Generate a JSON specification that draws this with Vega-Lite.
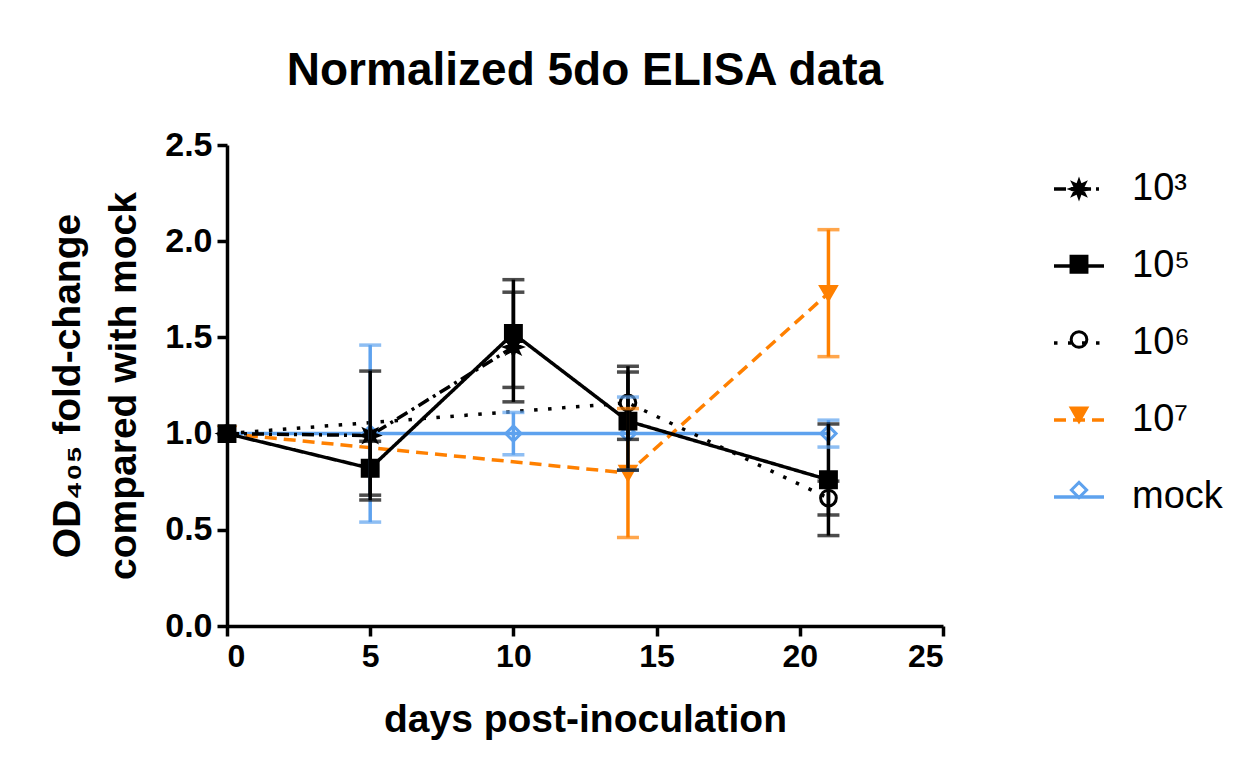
{
  "$schema": "https://vega.github.io/schema/vega-lite/v6.json",
  "width": 716,
  "height": 481,
  "autosize": {"type": "none"},
  "padding": {"left": 227, "top": 145, "right": 314, "bottom": 148},
  "background": "white",
  "title": {
    "text": "Normalized 5do ELISA data",
    "font": "Liberation Sans",
    "fontSize": 46,
    "fontWeight": "bold",
    "color": "black",
    "anchor": "middle",
    "frame": "group",
    "baseline": "alphabetic",
    "offset": -3
  },
  "config": {
    "view": {"stroke": null},
    "axis": {
      "grid": false,
      "domainColor": "black",
      "domainWidth": 3.5,
      "tickColor": "black",
      "tickWidth": 3.5,
      "tickSize": 10,
      "labelFont": "Liberation Sans",
      "labelFontWeight": "bold",
      "labelColor": "black",
      "titleFont": "Liberation Sans",
      "titleFontWeight": "bold",
      "titleFontSize": 39,
      "titleColor": "black"
    }
  },
  "data": {
    "values": [
      {"series": "mock", "day": 0, "mean": 1.0},
      {"series": "mock", "day": 5, "mean": 1.0, "lo": 0.54, "hi": 1.46},
      {"series": "mock", "day": 10, "mean": 1.0, "lo": 0.89, "hi": 1.11},
      {"series": "mock", "day": 14, "mean": 1.0, "lo": 0.81, "hi": 1.19},
      {"series": "mock", "day": 21, "mean": 1.0, "lo": 0.93, "hi": 1.07},
      {"series": "10⁷", "day": 0, "mean": 1.0},
      {"series": "10⁷", "day": 14, "mean": 0.795, "lo": 0.46, "hi": 1.13},
      {"series": "10⁷", "day": 21, "mean": 1.73, "lo": 1.4, "hi": 2.06},
      {"series": "10⁶", "day": 0, "mean": 1.0},
      {"series": "10⁶", "day": 14, "mean": 1.16, "lo": 0.97, "hi": 1.35},
      {"series": "10⁶", "day": 21, "mean": 0.665, "lo": 0.577, "hi": 0.753},
      {"series": "10³", "day": 0, "mean": 1.0},
      {"series": "10³", "day": 5, "mean": 0.99, "lo": 0.655, "hi": 1.325},
      {"series": "10³", "day": 10, "mean": 1.45, "lo": 1.165, "hi": 1.735},
      {"series": "10⁵", "day": 0, "mean": 1.0},
      {"series": "10⁵", "day": 5, "mean": 0.82, "lo": 0.68, "hi": 0.96},
      {"series": "10⁵", "day": 10, "mean": 1.52, "lo": 1.24, "hi": 1.8},
      {"series": "10⁵", "day": 14, "mean": 1.065, "lo": 0.81, "hi": 1.32},
      {"series": "10⁵", "day": 21, "mean": 0.76, "lo": 0.47, "hi": 1.05}
    ]
  },
  "encoding": {
    "x": {
      "field": "day",
      "type": "quantitative",
      "scale": {"domain": [0, 25], "nice": false, "zero": false},
      "axis": {"values": [0, 5, 10, 15, 20, 25], "title": "days post-inoculation", "labelFontSize": 32, "labelPadding": 5, "titlePadding": 28}
    },
    "y": {
      "field": "mean",
      "type": "quantitative",
      "scale": {"domain": [0, 2.5], "nice": false},
      "axis": {
        "values": [0, 0.5, 1, 1.5, 2, 2.5],
        "format": ".1f",
        "title": ["OD₄₀₅ fold-change", "compared with mock"],
        "titleLineHeight": 56,
        "labelFontSize": 34,
        "labelPadding": 5,
        "titlePadding": 21
      }
    }
  },
  "layer": [
    {
      "mark": {"type": "line", "strokeWidth": 3.5},
      "encoding": {
        "color": {
          "field": "series",
          "type": "nominal",
          "scale": {"domain": ["10³", "10⁵", "10⁶", "10⁷", "mock"], "range": ["black", "black", "black", "#FF8000", "#5EA2EE"]},
          "legend": {"orient": "none", "legendX": 825, "legendY": 17, "title": null, "padding": 0, "symbolType": "stroke", "symbolSize": 2500, "symbolStrokeWidth": 3.5, "labelFont": "Liberation Sans", "labelFontSize": 38, "labelColor": "black", "labelOffset": 26, "rowPadding": 31}
        },
        "strokeDash": {
          "field": "series",
          "type": "nominal",
          "scale": {"domain": ["10³", "10⁵", "10⁶", "10⁷", "mock"], "range": [[12, 5, 3, 5], [1, 0], [3.5, 10.5], [12, 7], [1, 0]]},
          "legend": {"orient": "none", "legendX": 825, "legendY": 17, "title": null, "padding": 0, "symbolType": "stroke", "symbolSize": 2500, "symbolStrokeWidth": 3.5, "labelFont": "Liberation Sans", "labelFontSize": 38, "labelColor": "black", "labelOffset": 26, "rowPadding": 31}
        }
      }
    },
    {
      "mark": {"type": "point", "strokeWidth": 3, "opacity": 1},
      "encoding": {
        "stroke": {
          "field": "series",
          "type": "nominal",
          "scale": {"domain": ["10³", "10⁵", "10⁶", "10⁷", "mock", " "], "range": ["black", "black", "black", "#FF8000", "#5EA2EE", "black"]},
          "legend": {"orient": "none", "legendX": 833, "legendY": 25, "title": null, "padding": 0, "values": ["10³", "10⁵", "10⁶", "10⁷", "mock"], "labelExpr": "''", "labelFont": "Liberation Sans", "labelFontSize": 38, "labelOffset": 26, "rowPadding": 37.25, "symbolStrokeWidth": 3}
        },
        "shape": {
          "field": "series",
          "type": "nominal",
          "scale": {"domain": ["10³", "10⁵", "10⁶", "10⁷", "mock", " "], "range": ["M1,0L0.462,0.191L0.707,0.707L0.191,0.462L0,1L-0.191,0.462L-0.707,0.707L-0.462,0.191L-1,0L-0.462,-0.191L-0.707,-0.707L-0.191,-0.462L0,-1L0.191,-0.462L0.707,-0.707L0.462,-0.191Z", "square", "circle", "triangle-down", "diamond", "circle"]},
          "legend": {"orient": "none", "legendX": 833, "legendY": 25, "title": null, "padding": 0, "values": ["10³", "10⁵", "10⁶", "10⁷", "mock"], "labelExpr": "''", "labelFont": "Liberation Sans", "labelFontSize": 38, "labelOffset": 26, "rowPadding": 37.25, "symbolStrokeWidth": 3}
        },
        "fill": {
          "field": "series",
          "type": "nominal",
          "scale": {"domain": ["10³", "10⁵", "10⁶", "10⁷", "mock", " "], "range": ["black", "black", "transparent", "#FF8000", "transparent", "black"]},
          "legend": {"orient": "none", "legendX": 833, "legendY": 25, "title": null, "padding": 0, "values": ["10³", "10⁵", "10⁶", "10⁷", "mock"], "labelExpr": "''", "labelFont": "Liberation Sans", "labelFontSize": 38, "labelOffset": 26, "rowPadding": 37.25, "symbolStrokeWidth": 3}
        },
        "size": {
          "field": "series",
          "type": "nominal",
          "scale": {"domain": ["10³", "10⁵", "10⁶", "10⁷", "mock", " "], "range": [260, 225, 361, 400, 400, 100]},
          "legend": {"orient": "none", "legendX": 833, "legendY": 25, "title": null, "padding": 0, "values": ["10³", "10⁵", "10⁶", "10⁷", "mock"], "labelExpr": "''", "labelFont": "Liberation Sans", "labelFontSize": 38, "labelOffset": 26, "rowPadding": 37.25, "symbolStrokeWidth": 3}
        }
      }
    },
    {
      "transform": [{"filter": "isValid(datum.lo)"}],
      "mark": {"type": "rule", "strokeWidth": 3.5},
      "encoding": {
        "y": {"field": "lo", "type": "quantitative"},
        "y2": {"field": "hi"},
        "color": {"field": "series", "type": "nominal", "legend": null}
      }
    },
    {
      "transform": [{"filter": "isValid(datum.lo)"}],
      "mark": {"type": "tick", "orient": "horizontal", "size": 22, "thickness": 3.5},
      "encoding": {
        "y": {"field": "lo", "type": "quantitative"},
        "color": {"field": "series", "type": "nominal", "legend": null}
      }
    },
    {
      "transform": [{"filter": "isValid(datum.lo)"}],
      "mark": {"type": "tick", "orient": "horizontal", "size": 22, "thickness": 3.5},
      "encoding": {
        "y": {"field": "hi", "type": "quantitative"},
        "color": {"field": "series", "type": "nominal", "legend": null}
      }
    }
  ]
}
